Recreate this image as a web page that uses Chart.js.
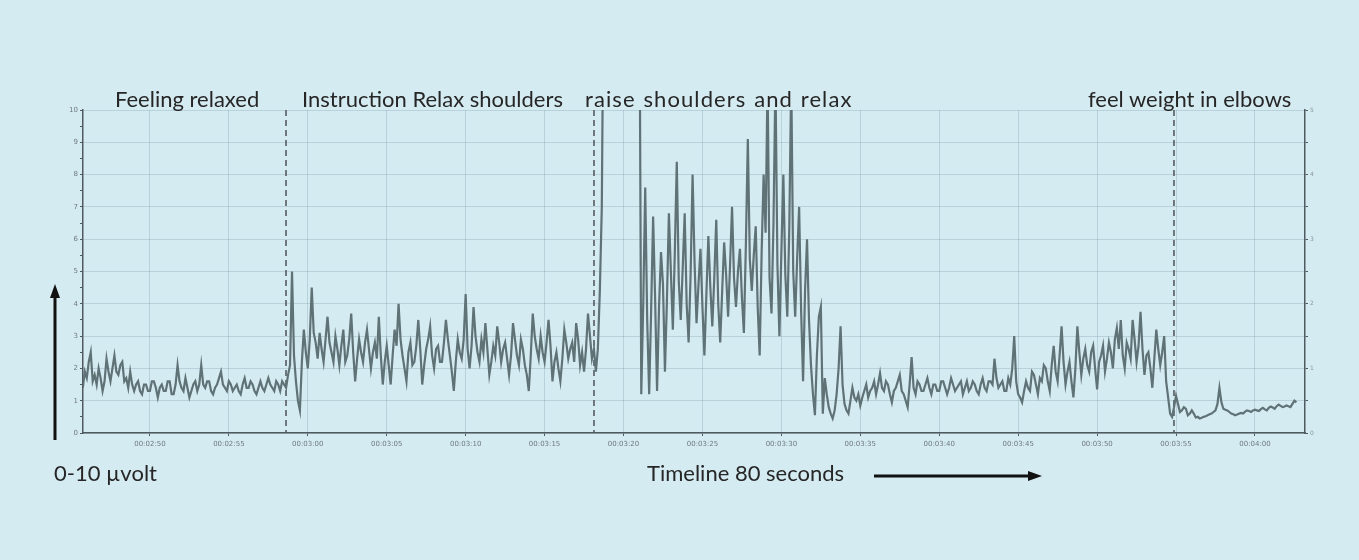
<!DOCTYPE html>
<html>
<head>
<meta charset="utf-8">
<script src="https://cdn.jsdelivr.net/npm/chart.js@4.4.1/dist/chart.umd.min.js"></script>
<style>
  html, body { margin: 0; padding: 0; }
  body { width: 1359px; height: 560px; background: #d5ebf2; position: relative; overflow: hidden; font-family: Lato, "Open Sans", sans-serif; }
  #wrap { position: absolute; left: 0; top: 0; width: 1359px; height: 560px; }
  .note { position: absolute; font-size: 22px; color: #262626; white-space: nowrap; line-height: 24px; }
  svg { position: absolute; left: 0; top: 0; }
</style>
</head>
<body>
<div id="wrap"><canvas id="emg" width="1359" height="560"></canvas></div>

<div class="note" style="left:115px; top:87px;">Feeling relaxed</div>
<div class="note" style="left:302px; top:87px;">Instruction Relax shoulders</div>
<div class="note" style="left:585px; top:87px; letter-spacing:1.1px; word-spacing:1px;">raise shoulders and relax</div>
<div class="note" style="left:1088px; top:87px;">feel weight in elbows</div>
<div class="note" style="left:54px; top:461px;">0-10 µvolt</div>
<div class="note" style="left:647px; top:461px;">Timeline 80 seconds</div>

<svg width="1359" height="560">
  <line x1="55" y1="440" x2="55" y2="296" stroke="#111" stroke-width="3"/>
  <polygon points="55,284 50,298 60,298" fill="#111"/>
  <line x1="874" y1="476" x2="1030" y2="476" stroke="#111" stroke-width="3"/>
  <polygon points="1042,476 1028,471 1028,481" fill="#111"/>
</svg>

<script>
// sampling of the EMG trace (seconds)
const startSec = 165.75;
const sampleStep = 0.125;

// µV values, one list per phase
const relaxed = [1.4,1.9,1.7,2.2,2.5,1.6,1.8,1.5,2.0,1.7,1.3,1.6,2.3,1.9,1.6,2.0,2.4,1.9,1.8,2.1,
  2.2,1.6,1.7,1.4,1.9,1.5,1.3,1.5,1.6,1.3,1.2,1.5,1.5,1.3,1.3,1.6,1.6,1.4,1.1,1.4,
  1.5,1.3,1.3,1.6,1.6,1.2,1.2,1.5,2.1,1.6,1.4,1.3,1.7,1.4,1.1,1.3,1.5,1.6,1.3,1.5,
  2.1,1.5,1.4,1.6,1.6,1.3,1.2,1.4,1.5,1.7,1.9,1.5,1.4,1.3,1.6,1.5,1.3,1.4,1.5,1.3,
  1.2,1.5,1.7,1.4,1.4,1.6,1.5,1.3,1.2,1.4,1.6,1.4,1.3,1.5,1.7,1.5,1.4,1.3,1.6,1.5,
  1.3,1.6,1.5,1.4];
const relaxShoulders = [1.8,2.1,5.0,2.4,1.6,1.0,0.7,2.2,3.2,2.5,2.0,2.9,4.5,3.1,2.8,2.3,3.1,2.6,2.2,2.9,
  3.6,2.8,2.5,2.2,3.0,2.6,2.1,2.7,3.2,2.2,2.4,2.9,3.7,2.5,1.6,2.3,2.9,2.5,2.2,2.8,
  3.2,2.6,2.0,2.5,2.8,2.3,3.6,2.4,1.5,2.2,2.7,2.1,1.5,2.4,3.2,2.7,4.0,2.9,2.4,2.0,
  1.6,2.5,2.8,2.1,2.2,2.7,3.5,2.6,1.5,2.1,2.6,2.9,3.3,2.4,2.0,2.6,2.7,2.2,2.2,2.8,
  3.5,2.9,2.4,1.9,1.3,2.2,2.9,2.5,2.3,2.9,4.3,2.6,2.0,2.7,3.9,3.0,2.5,2.2,2.9,2.5,
  3.4,2.6,1.8,2.2,2.7,2.4,3.3,2.8,2.2,2.6,2.8,2.3,1.8,2.4,3.4,2.9,2.4,2.1,2.9,2.6,
  2.1,1.8,1.3,2.4,3.7,3.0,2.6,2.3,3.0,2.5,2.2,2.8,3.5,2.7,1.6,2.2,2.5,2.0,1.6,2.3,
  3.2,2.8,2.3,2.6,2.8,2.2,3.4,2.9,2.1,2.5,1.9,2.6,3.7,3.0,2.3,2.6];
const raiseShoulders = [1.9,2.6,4.4,7.0,
  15,15,15,15,15,15,15,15,15,15,15,15,15,15,15,15,15,15,15,
  1.2,4.0,7.6,3.5,1.2,3.8,6.7,4.2,1.3,3.9,5.6,4.6,1.9,4.1,6.8,5.0,3.2,5.6,8.4,4.7,
  3.5,5.1,6.8,4.0,2.8,4.9,8.0,5.3,3.4,4.6,5.7,3.9,2.4,4.3,6.1,4.5,3.3,4.8,6.6,4.0,
  2.8,4.4,5.9,4.9,3.6,5.2,7.0,4.8,3.9,5.0,5.7,4.2,3.1,5.8,9.1,5.4,4.4,5.5,6.4,3.9,
  2.4,5.6,8.0,6.2,11,4.8,3.7,6.5,11,5.2,3.0,5.6,8.0,4.9,3.6,6.3,11,5.0,3.6,5.4,
  7.0,3.8,1.6,4.4,6.0,3.5,2.1,1.2,0.55,2.4,3.6,3.9,0.6];
const afterRaise = [1.7,1.2,0.8,0.6,0.45,0.7,1.2,2.0,3.3,1.5,0.9,0.7,0.6,1.0,1.4,1.1,1.0,1.2,0.85,1.1,
  1.3,1.5,1.1,1.3,1.4,1.6,1.2,1.5,1.85,1.4,1.3,1.6,1.5,1.2,0.95,1.3,1.4,1.6,1.8,1.3,
  1.2,1.0,0.8,1.5,2.35,1.4,1.2,1.6,1.5,1.3,1.3,1.5,1.7,1.4,1.2,1.5,1.5,1.3,1.3,1.6,
  1.6,1.4,1.2,1.4,1.7,1.5,1.3,1.4,1.5,1.6,1.2,1.4,1.6,1.3,1.4,1.6,1.5,1.3,1.2,1.5,
  1.7,1.4,1.3,1.6,1.6,1.5,2.3,1.7,1.4,1.5,1.6,1.3,1.3,1.7,1.5,2.0,3.0,1.6,1.2,1.1,
  0.95,1.3,1.6,1.4,1.3,1.9,1.8,1.5,1.2,1.7,1.6,2.1,2.0,1.6,1.3,2.1,2.7,1.9,1.6,2.4,
  3.3,2.2,1.5,1.9,2.2,1.6,1.1,2.0,3.3,2.5,1.8,2.3,2.6,2.1,1.9,2.5,2.7,2.0,1.35,2.2,
  2.4,2.7,1.9,2.3,2.8,2.5,2.0,2.9,3.25,2.6,3.5,2.4,2.0,2.8,2.6,2.3,3.5,2.9,2.2,2.7,
  3.75,2.6,1.8,2.4,2.5,2.0,1.4,2.3,3.2,2.6,2.1,2.5,3.0,1.6];
const weightInElbows = [1.1,0.6,0.5,0.8,1.15,0.9,0.65,0.7,0.8,0.75,0.55,0.6,0.7,0.6,0.48,0.5,0.45,0.47,0.5,0.52,
  0.55,0.58,0.6,0.65,0.7,0.9,1.4,0.95,0.75,0.72,0.7,0.65,0.6,0.58,0.55,0.57,0.6,0.62,0.6,0.66,
  0.7,0.68,0.65,0.7,0.72,0.7,0.68,0.74,0.78,0.73,0.7,0.78,0.82,0.79,0.75,0.83,0.88,0.84,0.8,0.82,
  0.85,0.83,0.8,0.9,1.0,0.95];

// phase boundaries (dashed markers), seconds
const phaseMarks = [178.62, 198.13, 234.87];
// x axis ticks, seconds
const tickSeconds = [170,175,180,185,190,195,200,205,210,215,220,225,230,235,240];
const xMin = 165.76, xMax = 243.17;

const samples = [...relaxed, ...relaxShoulders, ...raiseShoulders, ...afterRaise, ...weightInElbows];
const points = samples.map((v, i) => ({ x: startSec + i * sampleStep, y: v }));

const pad2 = n => String(n).padStart(2, '0');
const clockLabel = v => '00:' + pad2(Math.floor(v / 60)) + ':' + pad2(Math.round(v % 60));

const phaseLines = {
  id: 'phaseLines',
  beforeDatasetsDraw(chart) {
    const { ctx, chartArea, scales } = chart;
    ctx.save();
    ctx.strokeStyle = '#555c60';
    ctx.lineWidth = 1.6;
    ctx.setLineDash([6, 4]);
    phaseMarks.forEach(t => {
      const x = scales.x.getPixelForValue(t);
      ctx.beginPath();
      ctx.moveTo(x, chartArea.top);
      ctx.lineTo(x, chartArea.bottom);
      ctx.stroke();
    });
    ctx.restore();
  }
};

const gridColor = 'rgba(110,145,158,0.28)';

new Chart(document.getElementById('emg').getContext('2d'), {
  type: 'line',
  data: {
    datasets: [{
      data: points,
      borderColor: '#5f7276',
      borderWidth: 2.2,
      pointRadius: 0,
      tension: 0,
      fill: false
    }]
  },
  options: {
    responsive: false,
    animation: false,
    layout: { padding: { left: 63, top: 110, right: 34, bottom: 107 } },
    plugins: { legend: { display: false }, tooltip: { enabled: false } },
    scales: {
      x: {
        type: 'linear',
        min: xMin,
        max: xMax,
        afterBuildTicks: s => { s.ticks = tickSeconds.map(v => ({ value: v })); },
        afterFit: s => { s.height = 20; },
        border: { color: '#4f5a5e', width: 1.5 },
        grid: { color: gridColor, tickColor: '#4f5a5e', tickLength: 3 },
        ticks: { callback: v => clockLabel(v), font: { size: 7, family: 'DejaVu Sans' }, color: '#6d7a7e', maxRotation: 0, autoSkip: false, padding: 4 }
      },
      y: {
        position: 'left',
        min: 0,
        max: 10,
        afterFit: s => { s.width = 20; },
        border: { color: '#4f5a5e', width: 1.5 },
        grid: {
          color: c => Number.isInteger(c.tick.value) ? gridColor : 'rgba(0,0,0,0)',
          tickColor: '#4f5a5e',
          tickLength: 3
        },
        ticks: { stepSize: 0.5, callback: v => Number.isInteger(v) ? String(v) : '', font: { size: 7, family: 'DejaVu Sans' }, color: '#6d7a7e', padding: 2 }
      },
      y2: {
        position: 'right',
        min: 0,
        max: 5,
        afterFit: s => { s.width = 20; },
        border: { color: '#4f5a5e', width: 1.5 },
        grid: { drawOnChartArea: false, tickColor: '#4f5a5e', tickLength: 3 },
        ticks: { stepSize: 0.5, callback: v => Number.isInteger(v) ? String(v) : '', font: { size: 6, family: 'DejaVu Sans' }, color: '#8a979b', padding: 2 }
      }
    }
  },
  plugins: [phaseLines]
});
</script>
</body>
</html>
